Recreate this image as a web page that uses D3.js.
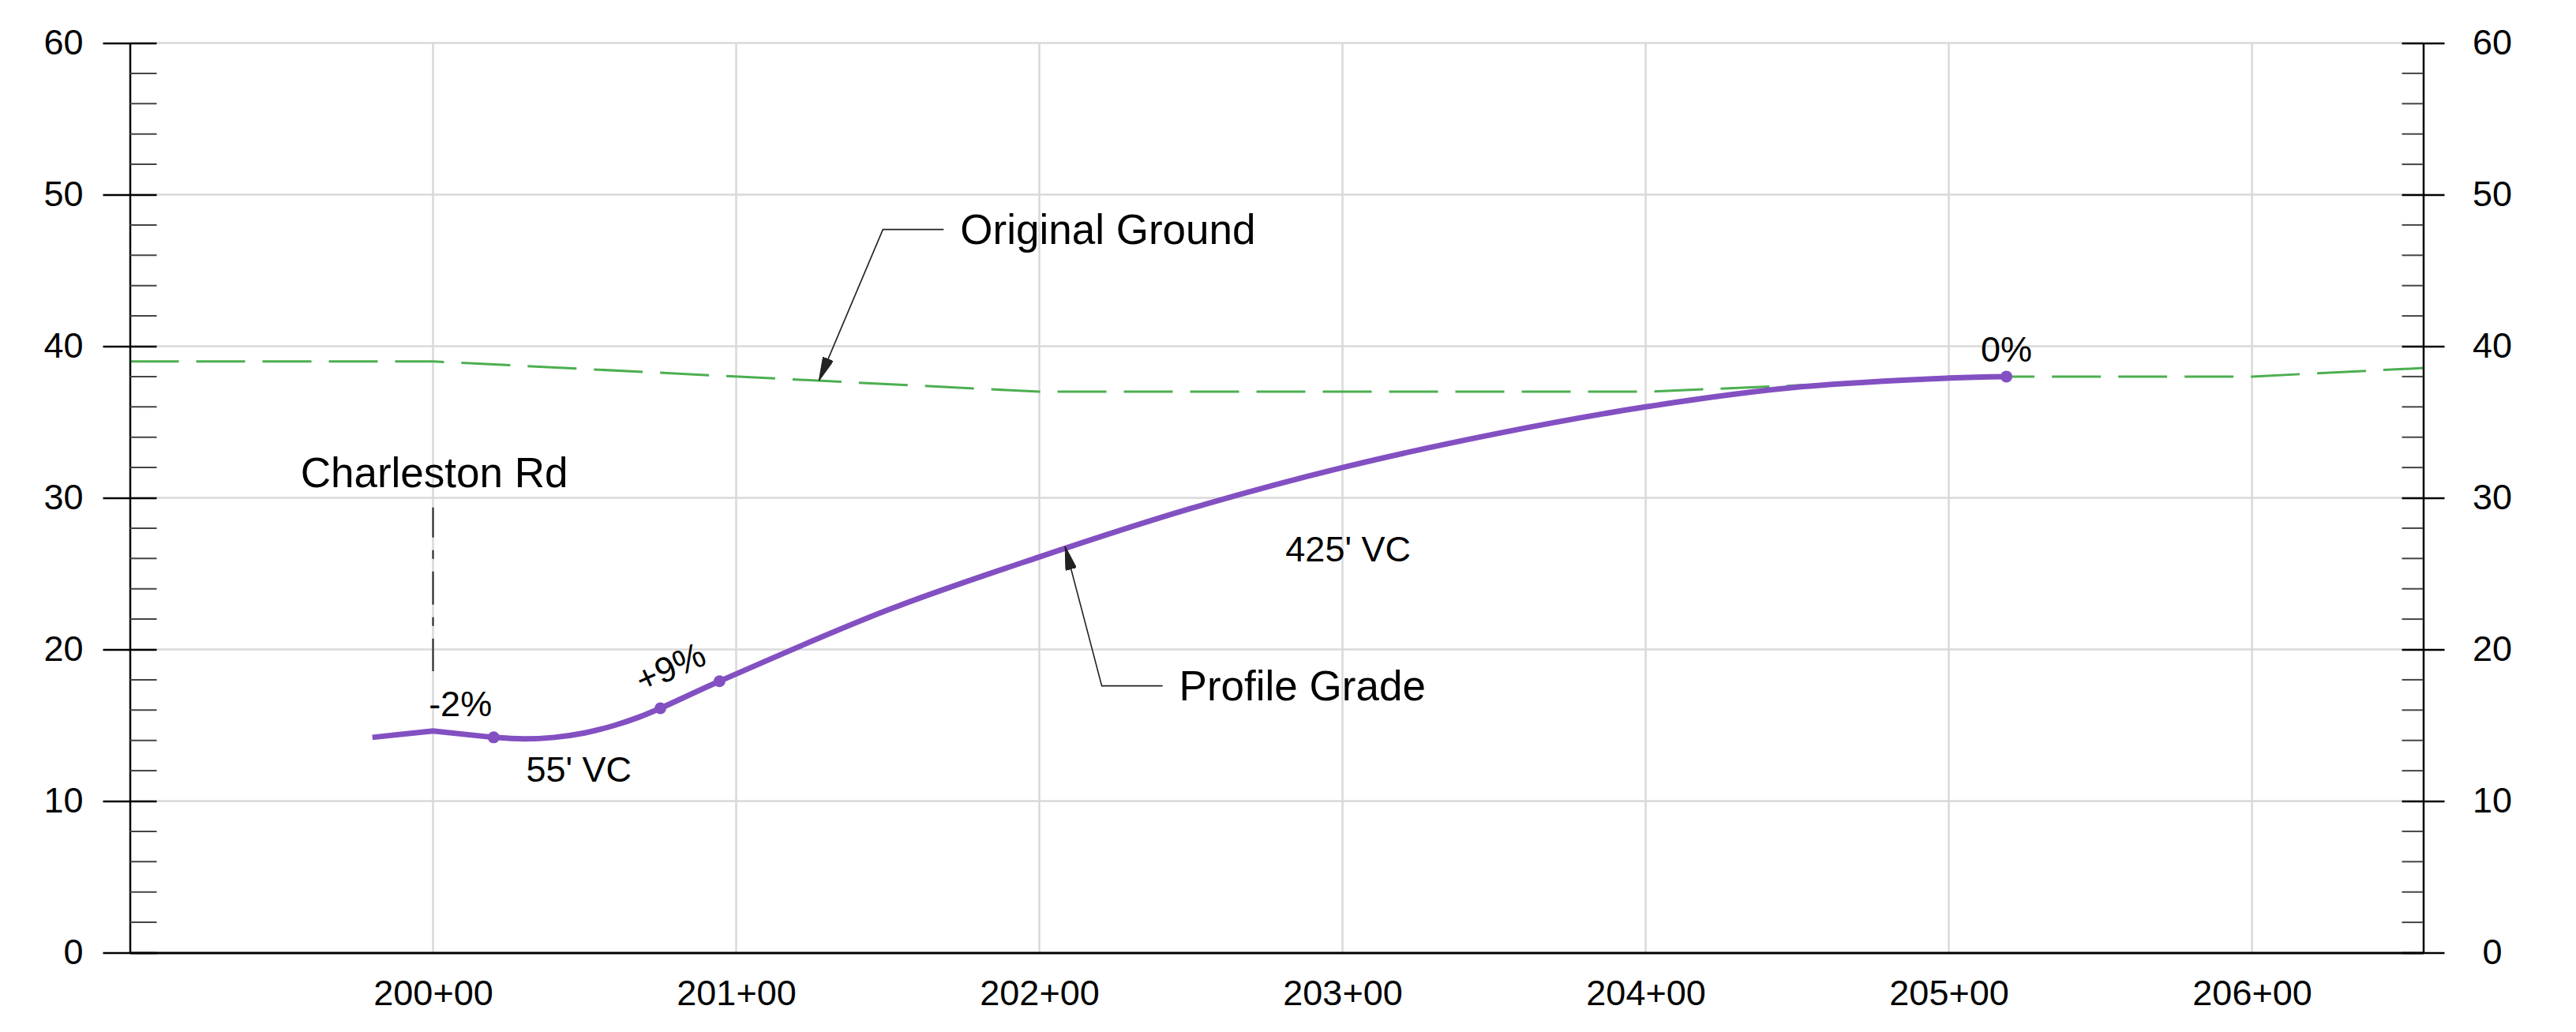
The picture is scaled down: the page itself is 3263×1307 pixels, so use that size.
<!DOCTYPE html>
<html>
<head>
<meta charset="utf-8">
<script src="https://cdn.jsdelivr.net/npm/d3@7"></script>
<style>
  html, body { margin: 0; padding: 0; background: #fff; }
  svg { display: block; }
  text { font-family: "Liberation Sans", Arial, Helvetica, sans-serif; fill: #000; }
</style>
</head>
<body>
<svg id="chart" width="3263" height="1307"></svg>
<script>
// ---------------- data ----------------
const stationTicks = [20000, 20100, 20200, 20300, 20400, 20500, 20600];
const stationLabels = ["200+00", "201+00", "202+00", "203+00", "204+00", "205+00", "206+00"];
const elevTicks = [0, 10, 20, 30, 40, 50, 60];
const elevMinorTicks = [2, 4, 6, 8, 12, 14, 16, 18, 22, 24, 26, 28, 32, 34, 36, 38, 42, 44, 46, 48, 52, 54, 56, 58];

// Original ground (station ft, elevation ft)
const groundStation = [19900, 20000, 20200, 20400, 20520, 20600, 20700];
const groundElev    = [39,    39,    37,    37,    38,    38,    39];

// Profile grade: tangent part (linear) then vertical curves
const tangentStation = [19980, 20000, 20020];
const tangentElev    = [14.2,  14.62, 14.2];
const curveStation = [20020, 20030, 20040, 20050, 20060, 20068, 20075, 20094.5, 20150, 20200, 20250, 20300, 20350, 20400, 20450, 20500, 20519];
const curveElev    = [14.2,  14.1,  14.2,  14.49, 15.0,  15.54, 16.12, 17.9,    22.6,  26.1,  29.3,  32.0,  34.2,  36.0,  37.3,  37.9,  38.0];

// Control points (PVC/PVT) marked with dots
const dotStation = [20020, 20075, 20094.5, 20519];
const dotElev    = [14.2,  16.12, 17.9,    38.0];

// Grade labels
const gradeLabels  = ["-2%", "+9%", "0%"];
const gradeStation = [19998.6, 20080, 20519];
const gradeElev    = [15.6,    18.1,  39.0];
const gradeValue   = [-2, 9, 0];

// Vertical-curve length labels
const vcLabels  = ["55' VC", "425' VC"];
const vcStation = [20030.7, 20281.2];
const vcElev    = [11.28,   25.8];

// Callouts with leaders
const calloutLabels  = ["Original Ground", "Profile Grade"];
const calloutTipS    = [20127.3, 20208.5];
const calloutTipE    = [37.73,   26.8];
const calloutElbowS  = [20148.4, 20220.6];
const calloutElbowE  = [47.7,    17.6];

// Cross street
const streetLabel = "Charleston Rd";
const streetStation = 20000;
const streetLabelStation = 19956.3;
const streetLabelElev = 30.72;
const streetLeaderTop = 29.36;
const streetLeaderBottom = 18.57;

// ---------------- chart ----------------
const svg = d3.select("#chart");
const plotL = 164.5, plotR = 3069.5, plotT = 54.5, plotB = 1206.5;
const x = d3.scaleLinear().domain([19900, 20656.5]).range([plotL, plotR]);
const y = d3.scaleLinear().domain([0, 60]).range([plotB, plotT]);

const purple = "#8350c2";
const green = "#4caf50";
const gridCol = "#d9d9d9";

const defs = svg.append("defs");
defs.append("clipPath").attr("id", "plotclip")
  .append("rect").attr("x", plotL).attr("y", plotT).attr("width", plotR - plotL).attr("height", plotB - plotT);

// gridlines
const gGrid = svg.append("g");
gGrid.selectAll("line.v").data(stationTicks).join("line").attr("class", "v")
  .attr("x1", d => x(d)).attr("x2", d => x(d))
  .attr("y1", y(60)).attr("y2", y(0))
  .attr("stroke", gridCol).attr("stroke-width", 2.5);
gGrid.selectAll("line.h").data(elevTicks.filter(d => d > 0)).join("line").attr("class", "h")
  .attr("x1", plotL).attr("x2", plotR)
  .attr("y1", d => y(d)).attr("y2", d => y(d))
  .attr("stroke", gridCol).attr("stroke-width", 2.5);

// original ground
const groundData = groundStation.map((s, i) => [s, groundElev[i]]);
svg.append("path")
  .attr("clip-path", "url(#plotclip)")
  .attr("d", d3.line().x(d => x(d[0])).y(d => y(d[1]))(groundData))
  .attr("fill", "none").attr("stroke", green).attr("stroke-width", 3)
  .attr("stroke-dasharray", "62,22");

// profile grade
const tangentData = tangentStation.map((s, i) => [s, tangentElev[i]]);
const curveData = curveStation.map((s, i) => [s, curveElev[i]]);
svg.append("path")
  .attr("d", d3.line().x(d => x(d[0])).y(d => y(d[1]))(tangentData))
  .attr("fill", "none").attr("stroke", purple).attr("stroke-width", 7)
  .attr("stroke-linejoin", "miter");
svg.append("path")
  .attr("d", d3.line().x(d => x(d[0])).y(d => y(d[1])).curve(d3.curveCatmullRom.alpha(0.5))(curveData))
  .attr("fill", "none").attr("stroke", purple).attr("stroke-width", 7);
svg.selectAll("circle.pt").data(dotStation).join("circle").attr("class", "pt")
  .attr("cx", d => x(d)).attr("cy", (d, i) => y(dotElev[i]))
  .attr("r", 7.5).attr("fill", purple);

// left axis
const gL = svg.append("g").attr("transform", `translate(${plotL},0)`)
  .call(d3.axisLeft(y).tickValues(elevTicks).tickSize(34).tickPadding(25).tickSizeOuter(0));
gL.select(".domain").attr("stroke", "#000").attr("stroke-width", 2.5);
gL.selectAll(".tick line").attr("x1", 34).attr("stroke", "#000").attr("stroke-width", 2.5);
gL.selectAll(".tick text").style("font-size", "45px").attr("fill", "#000");
gL.selectAll("line.minor").data(elevMinorTicks).join("line").attr("class", "minor")
  .attr("x1", 0).attr("x2", 34).attr("y1", d => y(d)).attr("y2", d => y(d))
  .attr("stroke", "#444").attr("stroke-width", 2);

// right axis
const gR = svg.append("g").attr("transform", `translate(${plotR},0)`)
  .call(d3.axisRight(y).tickValues(elevTicks).tickSize(27).tickPadding(60).tickSizeOuter(0));
gR.select(".domain").attr("stroke", "#000").attr("stroke-width", 2.5);
gR.selectAll(".tick line").attr("x1", -27).attr("stroke", "#000").attr("stroke-width", 2.5);
gR.selectAll(".tick text").style("font-size", "45px").attr("fill", "#000")
  .attr("text-anchor", "middle").attr("x", 87.5);
gR.selectAll("line.minor").data(elevMinorTicks).join("line").attr("class", "minor")
  .attr("x1", -27).attr("x2", 0).attr("y1", d => y(d)).attr("y2", d => y(d))
  .attr("stroke", "#444").attr("stroke-width", 2);

// bottom axis
const gB = svg.append("g").attr("transform", `translate(0,${plotB})`)
  .call(d3.axisBottom(x).tickValues(stationTicks).tickFormat((d, i) => stationLabels[i])
    .tickSize(0).tickPadding(35).tickSizeOuter(0));
gB.select(".domain").attr("stroke", "#000").attr("stroke-width", 3);
gB.selectAll(".tick text").style("font-size", "45px").attr("fill", "#000");
gB.attr("font-family", null);
gL.attr("font-family", null);
gR.attr("font-family", null);

// arrow marker
defs.append("marker").attr("id", "arrow")
  .attr("viewBox", "0 0 30 14").attr("refX", 30).attr("refY", 7)
  .attr("markerWidth", 30).attr("markerHeight", 14)
  .attr("markerUnits", "userSpaceOnUse").attr("orient", "auto")
  .append("path").attr("d", "M0,0 L30,7 L0,14 Z")
  .attr("fill", "#222").attr("stroke", "#222").attr("stroke-width", 1);

// callouts
const gC = svg.append("g");
calloutLabels.forEach((lab, i) => {
  const ex = x(calloutElbowS[i]), ey = y(calloutElbowE[i]);
  const tx = x(calloutTipS[i]), ty = y(calloutTipE[i]);
  gC.append("path")
    .attr("d", `M${ex + 77},${ey} L${ex},${ey} L${tx},${ty}`)
    .attr("fill", "none").attr("stroke", "#222").attr("stroke-width", 1.6)
    .attr("marker-end", "url(#arrow)");
  gC.append("text").attr("x", ex + 98).attr("y", ey).attr("dy", "0.35em")
    .style("font-size", "53px").text(lab);
});

// cross street
svg.append("line")
  .attr("x1", x(streetStation)).attr("x2", x(streetStation))
  .attr("y1", y(streetLeaderTop)).attr("y2", y(streetLeaderBottom))
  .attr("stroke", "#222").attr("stroke-width", 2)
  .attr("stroke-dasharray", "42,16,11,16").attr("stroke-dashoffset", 4);
svg.append("text").attr("x", x(streetLabelStation)).attr("y", y(streetLabelElev))
  .style("font-size", "53px").text(streetLabel);

// grade labels
gradeLabels.forEach((lab, i) => {
  const px = x(gradeStation[i]), py = y(gradeElev[i]);
  const ang = Math.atan2(y(gradeValue[i]) - y(0), x(20100) - x(20000)) * 180 / Math.PI;
  const t = svg.append("text").style("font-size", "45px").text(lab);
  if (i === 0) {
    t.attr("x", px).attr("y", py).attr("text-anchor", "start");
  } else {
    t.attr("text-anchor", "middle")
     .attr("transform", `translate(${px},${py}) rotate(${ang})`);
  }
});

// VC labels
vcLabels.forEach((lab, i) => {
  svg.append("text").attr("x", x(vcStation[i])).attr("y", y(vcElev[i]))
    .style("font-size", "45px").text(lab);
});
</script>
</body>
</html>
